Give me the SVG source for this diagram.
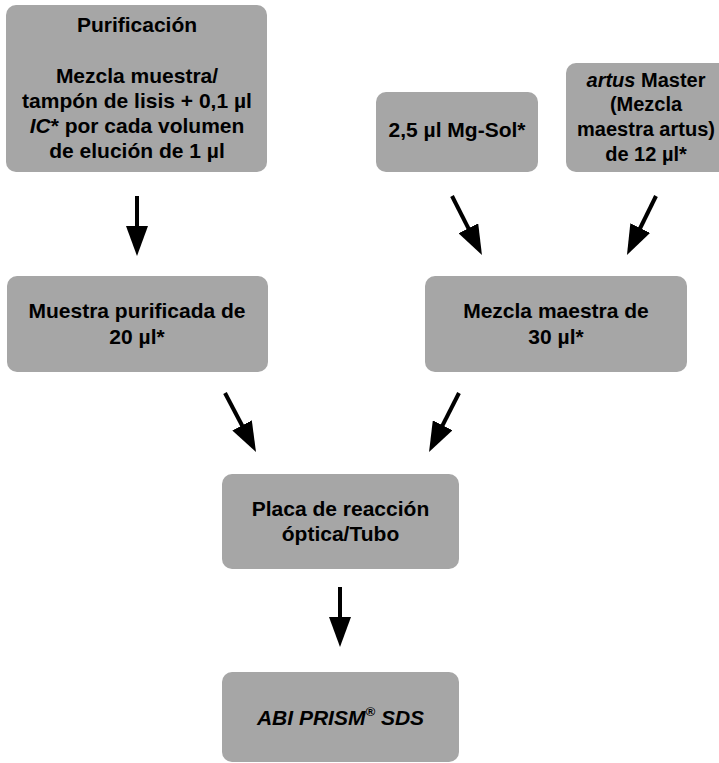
<svg xmlns="http://www.w3.org/2000/svg" width="719" height="763" viewBox="0 0 719 763">
<style>
.box{fill:#a6a6a6;}
.t{font-family:"Liberation Sans",Arial,sans-serif;font-weight:bold;font-size:21px;fill:#000;text-anchor:middle;}
.s{font-size:20px;}
.i{font-style:italic;}
.conn{stroke:#000;stroke-width:4;fill:none;marker-end:url(#ah);}
</style>
<defs>
<marker id="ah" markerUnits="userSpaceOnUse" viewBox="0 0 30 22" refX="10" refY="11" markerWidth="30" markerHeight="22" orient="auto">
<path d="M0,0 L30,11 L0,22 z" fill="#000"/>
</marker>
</defs>
<rect width="719" height="763" fill="#fff"/>
<g id="purificacion">
<rect class="box" x="6" y="5" width="261" height="167" rx="10"/>
<text class="t" x="137" y="32">Purificación</text>
<text class="t" x="137" y="83">Mezcla muestra/</text>
<text class="t" x="137" y="108">tampón de lisis + 0,1 µl</text>
<text class="t" x="137" y="133"><tspan class="i">IC</tspan>* por cada volumen</text>
<text class="t" x="137" y="158">de elución de 1 µl</text>
</g>
<g id="mgsol">
<rect class="box" x="376" y="92" width="162" height="80" rx="10"/>
<text class="t" x="457" y="137">2,5 µl Mg-Sol*</text>
</g>
<g id="artus">
<rect class="box" x="566" y="63" width="162" height="109" rx="10"/>
<text class="t s" x="646" y="87"><tspan class="i">artus</tspan> Master</text>
<text class="t s" x="646" y="111">(Mezcla</text>
<text class="t s" x="646" y="136">maestra artus)</text>
<text class="t s" x="646" y="161">de 12 µl*</text>
</g>
<g id="muestra">
<rect class="box" x="7" y="276" width="261" height="96" rx="10"/>
<text class="t" x="137" y="318">Muestra purificada de</text>
<text class="t" x="137" y="344">20 µl*</text>
</g>
<g id="mezcla">
<rect class="box" x="425" y="276" width="262" height="96" rx="10"/>
<text class="t" x="556" y="318">Mezcla maestra de</text>
<text class="t" x="556" y="344">30 µl*</text>
</g>
<g id="placa">
<rect class="box" x="222" y="474" width="237" height="95" rx="10"/>
<text class="t" x="340.5" y="516">Placa de reacción</text>
<text class="t" x="340.5" y="541">óptica/Tubo</text>
</g>
<g id="abi">
<rect class="box" x="222" y="672" width="237" height="90" rx="10"/>
<text class="t i" x="340.5" y="725">ABI PRISM<tspan font-size="13" dy="-9">®</tspan><tspan dy="9"> SDS</tspan></text>
</g>
<g id="connectors">
<line class="conn" x1="137" y1="196" x2="137" y2="236"/>
<line class="conn" x1="452" y1="196" x2="472.9" y2="237.2"/>
<line class="conn" x1="656" y1="196" x2="635.8" y2="237"/>
<line class="conn" x1="225" y1="393" x2="246.7" y2="434.3"/>
<line class="conn" x1="459" y1="393" x2="438.1" y2="434.2"/>
<line class="conn" x1="340" y1="587" x2="340" y2="627"/>
</g>
</svg>
